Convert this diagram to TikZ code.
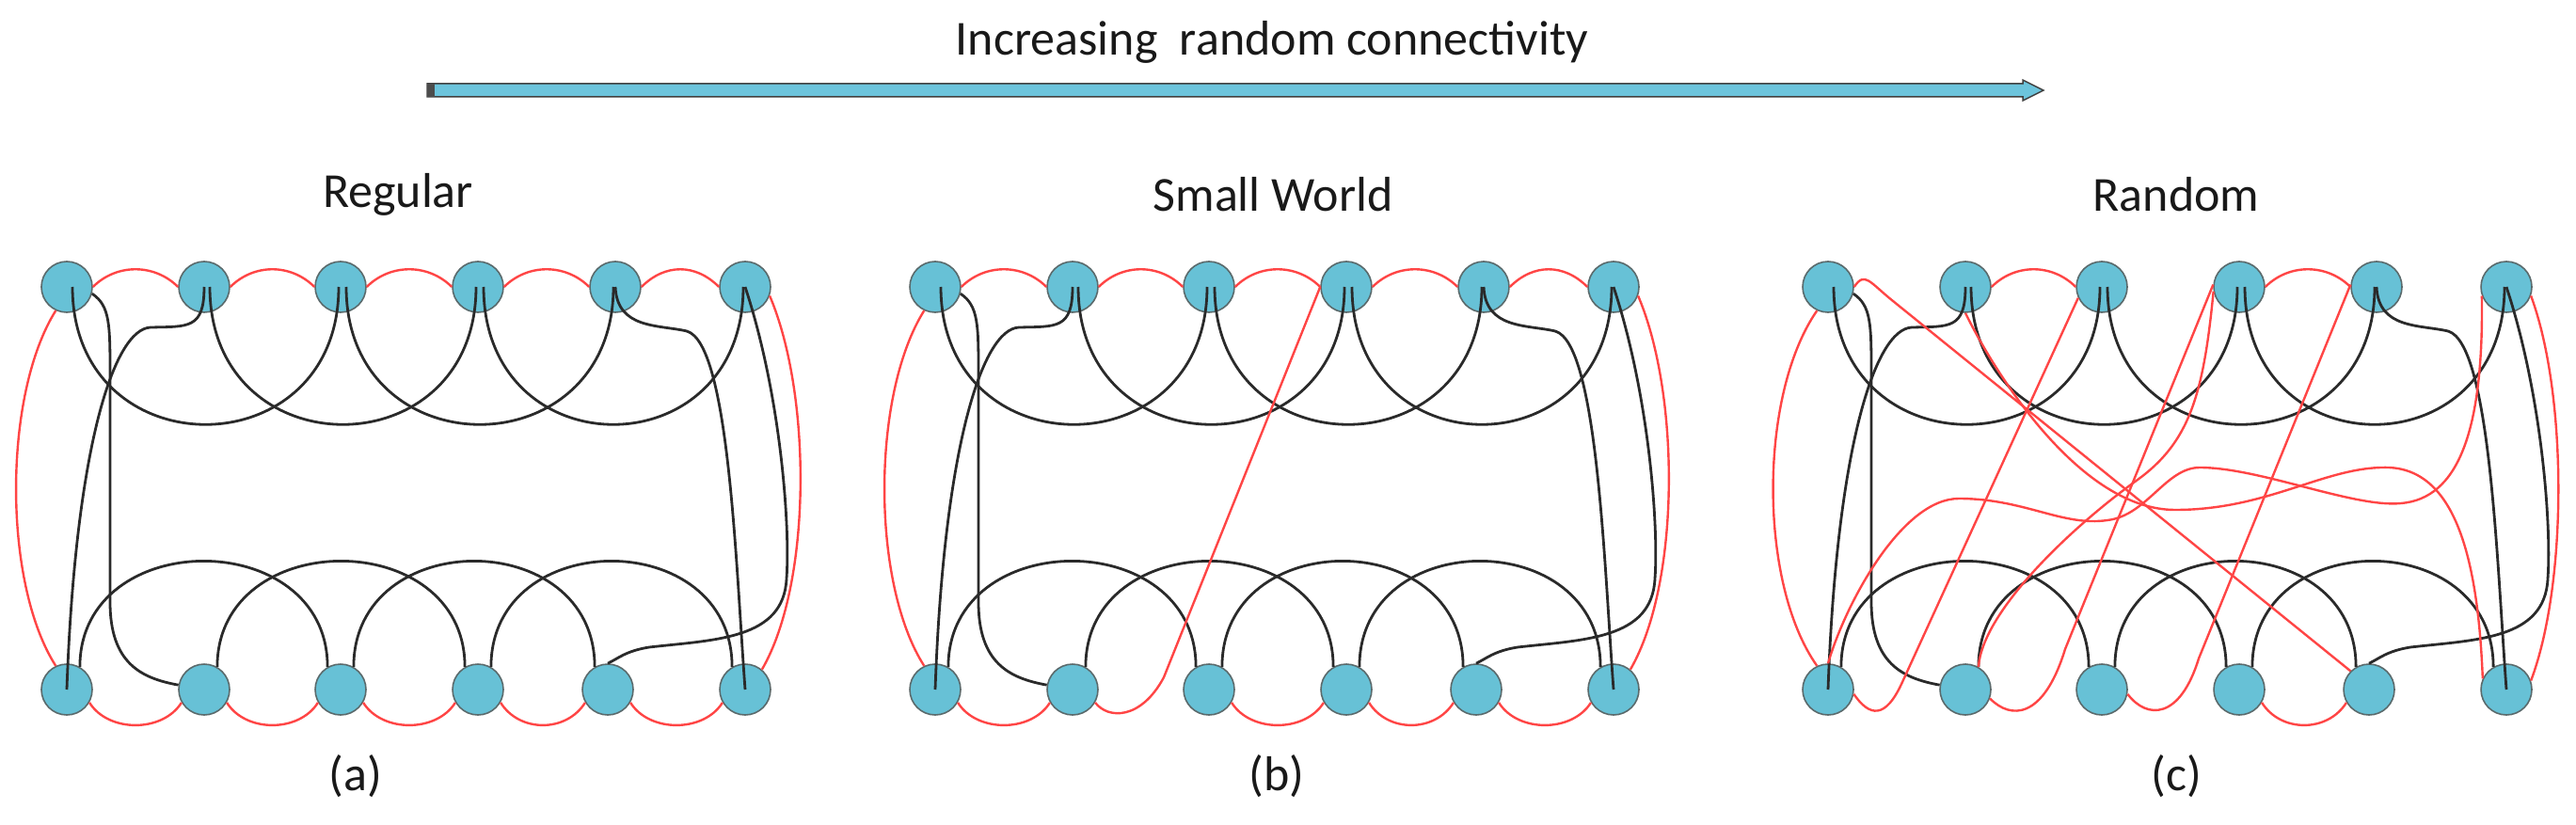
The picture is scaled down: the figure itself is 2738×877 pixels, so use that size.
\documentclass[tikz,border=0pt]{standalone}
\usepackage{fontspec}
\setmainfont{Carlito}
\definecolor{NodeClr}{HTML}{67C1D6}
\definecolor{NodeLine}{HTML}{5A6A6C}
\definecolor{LinkBlk}{HTML}{2A2A2A}
\definecolor{LinkRed}{HTML}{FF4545}
\definecolor{BarClr}{HTML}{6CC4DC}

\tikzset{
  net/.style={circle,draw=NodeLine,fill=NodeClr,line width=1.6pt,minimum size=54pt,inner sep=0pt},
  blk/.style={draw=LinkBlk,line width=2.8pt},
  rd/.style={draw=LinkRed,line width=2.4pt},
  lbl/.style={font=\fontsize{52}{60}\selectfont,text=black!90}
}

% nodes and the black (second neighbour) links of one ring
\newcommand{\netbase}[1]{%
  \foreach \i/\x in {1/71,2/217,3/362,4/508,5/654,6/792}
    \node[net] (#1-t\i) at (\x,305) {};
  \foreach \i/\x in {1/71,2/217,3/362,4/508,5/646,6/792}
    \node[net] (#1-b\i) at (\x,733) {};
  \foreach \i/\j in {1/3,2/4,3/5,4/6}
    \draw[blk] ([xshift=6pt]#1-t\i.center) .. controls +(0,195) and +(0,195) .. ([xshift=-2pt]#1-t\j.center);
  \foreach \i/\j in {1/3,2/4,3/5,4/6}
    \draw[blk] (#1-b\i.60) .. controls +(0,-150) and +(0,-150) .. (#1-b\j.120);
  \draw[blk] (#1-t1.-15) .. controls (117,325) and (117,345) .. (117,400) -- (117,640)
    .. controls (117,705) and (150,721) .. (#1-b2.170);
  \draw[blk] (#1-t2.center) .. controls (217,350) and (200,347) .. (160,348)
    .. controls (120,350) and (80,480) .. (#1-b1.center);
  \draw[blk] (#1-t5.center) .. controls (656,350) and (700,345) .. (730,352)
    .. controls (775,365) and (782,600) .. (#1-b6.center);
  \draw[blk] (#1-t6.center) .. controls (830,420) and (840,560) .. (836,615)
    .. controls (833,680) and (760,680) .. (690,688)
    .. controls (665,692) and (657,700) .. (#1-b5.north);
}
% red link between top neighbours / bottom neighbours
\newcommand{\toplink}[2]{\draw[rd] (#1.east) .. controls +(25,-25) and +(-25,-25) .. (#2.west);}
\newcommand{\botlink}[2]{\draw[rd] (#1.-30) .. controls +(20,32) and +(-20,32) .. (#2.-150);}

\begin{document}
\begin{tikzpicture}[x=1pt,y=-1pt]
\useasboundingbox (0,0) rectangle (2738,877);

\node[lbl] (title) at (1352,45) {Increasing\ \ random connectivity};
\draw[draw=black!75,fill=BarClr,line width=1.5pt]
  (454,89) -- (2150,89) -- (2150,85) -- (2172,96) -- (2150,107) -- (2150,103) -- (454,103) -- cycle;
\fill[black!70] (454,89) rectangle (462,103);

% (a) regular
\begin{scope}
\netbase{a}
\foreach \i/\j in {1/2,2/3,3/4,4/5,5/6} {\toplink{a-t\i}{a-t\j}}
\foreach \i/\j in {1/2,2/3,3/4,4/5,5/6} {\botlink{a-b\i}{a-b\j}}
\draw[rd] (a-t1.-115) .. controls (3,420) and (3,620) .. (a-b1.115);
\draw[rd] (a-t6.-20) .. controls (863,420) and (863,620) .. (a-b6.50);
\end{scope}

% (b) small world
\begin{scope}[xshift=923pt]
\netbase{b}
\foreach \i/\j in {1/2,2/3,3/4,4/5,5/6} {\toplink{b-t\i}{b-t\j}}
\foreach \i/\j in {1/2,3/4,4/5,5/6} {\botlink{b-b\i}{b-b\j}}
\draw[rd] (b-b2.-30) .. controls (255,765) and (290,765) .. (314,720) -- (b-t4.west);
\draw[rd] (b-t1.-115) .. controls (3,420) and (3,620) .. (b-b1.115);
\draw[rd] (b-t6.-20) .. controls (863,420) and (863,620) .. (b-b6.50);
\end{scope}

% (c) random
\begin{scope}[xshift=1872pt]
\netbase{c}
\toplink{c-t2}{c-t3}
\toplink{c-t4}{c-t5}
\botlink{c-b4}{c-b5}
\draw[rd] (c-t1.-115) .. controls (-3,420) and (-3,620) .. (c-b1.115);
\draw[rd] (c-t6.-20) .. controls (857,420) and (857,620) .. (c-b6.20);
\draw[rd] (c-t1.east) .. controls (110,288) and (115,300) .. (140,320) -- (c-b5.135);
\draw[rd] (c-b1.-10) .. controls (115,762) and (132,765) .. (150,725) -- (c-t3.-155);
\draw[rd] (c-b2.-20) .. controls (265,765) and (300,765) .. (323,690) -- (c-t4.175);
\draw[rd] (c-b3.-10) .. controls (410,765) and (445,765) .. (465,700) -- (c-t5.175);
\draw[rd] (c-b2.60) .. controls (235,650) and (330,560) .. (400,510)
  .. controls (455,470) and (470,420) .. (c-t4.-170);
\draw[rd] (c-b1.north) .. controls (90,640) and (150,530) .. (210,530)
  .. controls (280,530) and (320,560) .. (368,553)
  .. controls (410,548) and (430,497) .. (466,497)
  .. controls (530,497) and (630,540) .. (680,535)
  .. controls (740,530) and (768,460) .. (c-t6.-160);
\draw[rd] (c-t2.south) .. controls (250,400) and (340,542) .. (440,542)
  .. controls (540,542) and (600,495) .. (667,497)
  .. controls (740,500) and (762,600) .. (c-b6.155);
\end{scope}

\node[lbl] (reg) at (423,207) {Regular};
\node[lbl] (sw) at (1353,207) {Small World};
\node[lbl] (rnd) at (2313,207) {Random};
\node[lbl] (pa) at (378,825) {(a)};
\node[lbl] (pb) at (1357,825) {(b)};
\node[lbl] (pc) at (2313,825) {(c)};
\end{tikzpicture}
\end{document}
